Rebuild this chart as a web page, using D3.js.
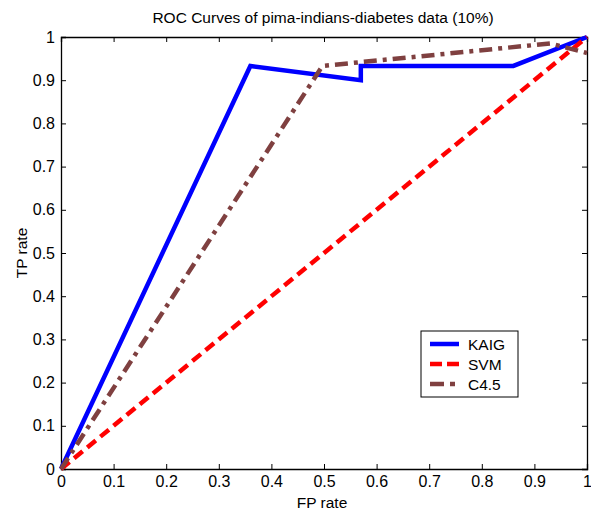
<!DOCTYPE html>
<html>
<head>
<meta charset="utf-8">
<script src="https://cdn.jsdelivr.net/npm/d3@7"></script>
<style>
  body { margin: 0; background: #fff; }
  text { font-family: Arial, "Liberation Sans", sans-serif; fill: #000; }
</style>
</head>
<body>
<svg id="chart" width="591" height="515"></svg>
<script>
// data
const seriesNames = ["KAIG", "SVM", "C4.5"];
const kaig = [[0, 0], [0.36, 0.933], [0.57, 0.90], [0.57, 0.933], [0.86, 0.933], [1, 1]];
const svm = [[0, 0], [1, 1]];
const c45 = [[0, 0], [0.497, 0.933], [0.93, 0.985], [1, 0.963]];
const xTicks = [0, 0.1, 0.2, 0.3, 0.4, 0.5, 0.6, 0.7, 0.8, 0.9, 1];
const yTicks = [0, 0.1, 0.2, 0.3, 0.4, 0.5, 0.6, 0.7, 0.8, 0.9, 1];

const margin = {top: 37, right: 4, bottom: 46, left: 61};
const width = 591, height = 515;
const innerW = 587 - margin.left, innerH = 469 - margin.top;

const svg = d3.select('#chart');
const chart = svg.append('g')
    .attr('transform', `translate(${margin.left},${margin.top})`);

const xscale = d3.scaleLinear().domain([0, 1]).range([0, innerW]);
const yscale = d3.scaleLinear().domain([0, 1]).range([innerH, 0]);

const fmt = d => d === 0 || d === 1 ? String(d) : d3.format('.1f')(d);

// axes, ticks pointing inward like matlab
const xaxis = chart.append('g').attr('transform', `translate(0,${innerH})`)
    .call(d3.axisBottom(xscale).tickValues(xTicks).tickFormat(fmt).tickSize(-5).tickPadding(7));
const xaxisTop = chart.append('g')
    .call(d3.axisTop(xscale).tickValues(xTicks).tickFormat('').tickSize(-5));
const yaxis = chart.append('g')
    .call(d3.axisLeft(yscale).tickValues(yTicks).tickFormat(fmt).tickSize(-5).tickPadding(6));
const yaxisRight = chart.append('g').attr('transform', `translate(${innerW},0)`)
    .call(d3.axisRight(yscale).tickValues(yTicks).tickFormat('').tickSize(-5));

[xaxis, xaxisTop, yaxis, yaxisRight].forEach(g => {
    g.attr('font-size', null).attr('font-family', null);
    g.selectAll('.domain').attr('stroke', '#000').attr('stroke-width', 1.3);
    g.selectAll('.tick line').attr('stroke', '#000');
    g.selectAll('text').style('font-size', '16px');
});

const styles = [
    {color: '#0000ff', dash: null},
    {color: '#ff0000', dash: '11,6'},
    {color: '#7f4040', dash: '13,6,4,6'}
];
const allData = [kaig, svm, c45];

const line = d3.line().x(d => xscale(d[0])).y(d => yscale(d[1]));

chart.selectAll('path.curve')
    .data(allData)
    .enter()
    .append('path')
    .attr('class', 'curve')
    .attr('d', line)
    .attr('fill', 'none')
    .attr('stroke', (d, i) => styles[i].color)
    .attr('stroke-width', 4.5)
    .attr('stroke-dasharray', (d, i) => styles[i].dash);

// title and labels
svg.append('text').attr('x', 323).attr('y', 23).attr('text-anchor', 'middle')
    .style('font-size', '15.5px').text('ROC Curves of pima-indians-diabetes data (10%)');
svg.append('text').attr('x', 322).attr('y', 508).attr('text-anchor', 'middle')
    .style('font-size', '15.5px').text('FP rate');
svg.append('text').attr('transform', 'translate(27,253) rotate(-90)').attr('text-anchor', 'middle')
    .style('font-size', '15.5px').text('TP rate');

// legend
const legend = svg.append('g').attr('transform', 'translate(421,331)');
legend.append('rect').attr('width', 97).attr('height', 66)
    .attr('fill', '#fff').attr('stroke', '#000').attr('stroke-width', 1);
const items = legend.selectAll('g.item')
    .data(seriesNames)
    .enter()
    .append('g')
    .attr('transform', (d, i) => `translate(0,${13 + i * 20})`);
items.append('line').attr('x1', 9).attr('x2', 38).attr('y1', 0).attr('y2', 0)
    .attr('stroke', (d, i) => styles[i].color)
    .attr('stroke-width', 4.5)
    .attr('stroke-dasharray', (d, i) => i === 1 ? '12,5' : i === 2 ? '14,6,5,6' : null);
items.append('text').attr('x', 47).attr('y', 5.5).style('font-size', '15.5px').text(d => d);
</script>
</body>
</html>
